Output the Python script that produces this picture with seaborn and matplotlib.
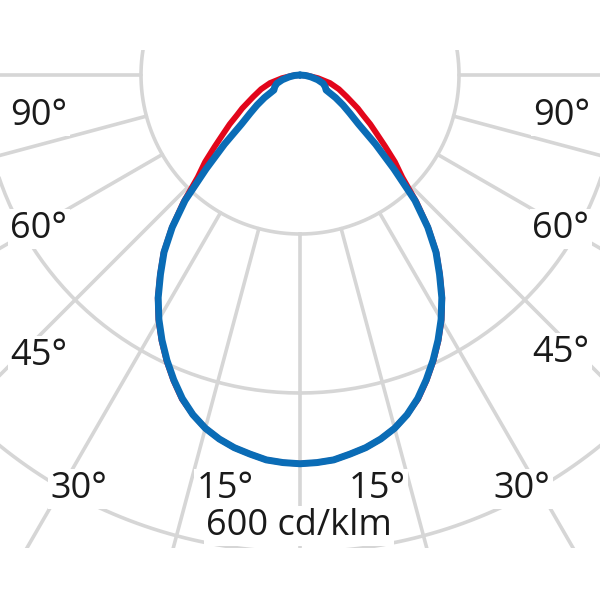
import numpy as np
import pandas as pd
import matplotlib
matplotlib.use("Agg")
import matplotlib.pyplot as plt
from matplotlib.patches import Rectangle
import seaborn as sns

sns.set_style("white")
plt.rcParams["font.family"] = ["Open Sans", "DejaVu Sans"]
plt.rcParams["lines.solid_joinstyle"] = "round"
plt.rcParams["lines.solid_capstyle"] = "round"

# gamma angles (deg) and intensities (cd/klm)
gamma = [0, 2.5, 5, 7.5, 10, 12.5, 15, 17.5, 20, 22.5, 25, 27.5, 30, 32.5, 35, 37.5,
         40, 42.5, 45, 47.5, 50, 52.5, 55, 57.5, 60, 65, 70, 75, 80, 85, 90, 180]
c0_c180 = [489, 488, 486, 481, 476, 469, 460, 448, 434, 416, 397, 377, 356, 333, 307, 282,
           251, 217, 182, 162, 140, 122, 108, 94, 84, 65, 52, 39, 23, 10, 0, 0]
c90_c270 = [489, 488, 486, 481, 476, 469, 460, 448, 433, 415, 396, 376, 355, 332, 306, 281,
            250, 214, 167, 129, 96, 79, 66, 53, 38, 35, 31, 23, 14, 7, 0, 0]

ring_values = [200, 400, 600]
spoke_angles = [-90, -75, -60, -45, -30, -15, 0, 15, 30, 45, 60, 75, 90]
angle_labels = ["90°", "60°", "45°", "30°", "15°", "15°", "30°", "45°", "60°", "90°"]
unit_label = "600 cd/klm"

RED = "#e2061b"
BLUE = "#0a6cb6"
GREY = "#d6d6d6"


def full_curve(values):
    # mirror the half plane around the nadir
    t = [-g for g in gamma[::-1]] + gamma[1:]
    r = values[::-1] + values[1:]
    return pd.DataFrame({"theta": np.radians(t), "r": r})


fig = plt.figure(figsize=(6, 6), dpi=100)
# centre of the diagram at pixel (300, 75), 600 cd/klm -> 477 px
rmax = 800
size = 2 * rmax * 477 / 600 / 600
cx, cy = 0.5, 1 - 75 / 600
ax = fig.add_axes([cx - size / 2, cy - size / 2, size, size], projection="polar")
ax.set_theta_zero_location("S")
ax.set_rlim(0, rmax)
ax.set_axis_off()

clip = Rectangle((0, 52 / 600), 1, 498 / 600, transform=fig.transFigure)

# grid: rings and spokes
circ = np.radians(np.arange(0, 361, 1))
for rv in ring_values:
    ln, = ax.plot(circ, np.full_like(circ, rv), color=GREY, lw=2.6, zorder=1)
    ln.set_clip_path(clip)
for a in spoke_angles:
    ln, = ax.plot([np.radians(a)] * 2, [ring_values[0], rmax], color=GREY, lw=2.6, zorder=1)
    ln.set_clip_path(clip)

# light distribution curves
sns.lineplot(data=full_curve(c0_c180), x="theta", y="r", sort=False, estimator=None,
             color=RED, lw=4.2, ax=ax, zorder=3)
sns.lineplot(data=full_curve(c90_c270), x="theta", y="r", sort=False, estimator=None,
             color=BLUE, lw=5.0, ax=ax, zorder=4)

# labels (pixel positions of the reference)
label_pos = [(39, 125), (39, 238), (39, 365), (79, 498), (225, 498),
             (377, 498), (522, 498), (561, 362), (561, 238), (562, 125)]
box = dict(facecolor="white", edgecolor="none", pad=1.5)
for txt, (px, py) in zip(angle_labels, label_pos):
    fig.text(px / 600, 1 - py / 600, txt, ha="center", va="baseline",
             fontsize=26, color="#1a1a1a", bbox=box, zorder=5)
fig.text(299 / 600, 1 - 535 / 600, unit_label, ha="center", va="baseline",
         fontsize=26, color="#1a1a1a", bbox=box, zorder=5)

fig.savefig("out.png", dpi=100, facecolor="white")
